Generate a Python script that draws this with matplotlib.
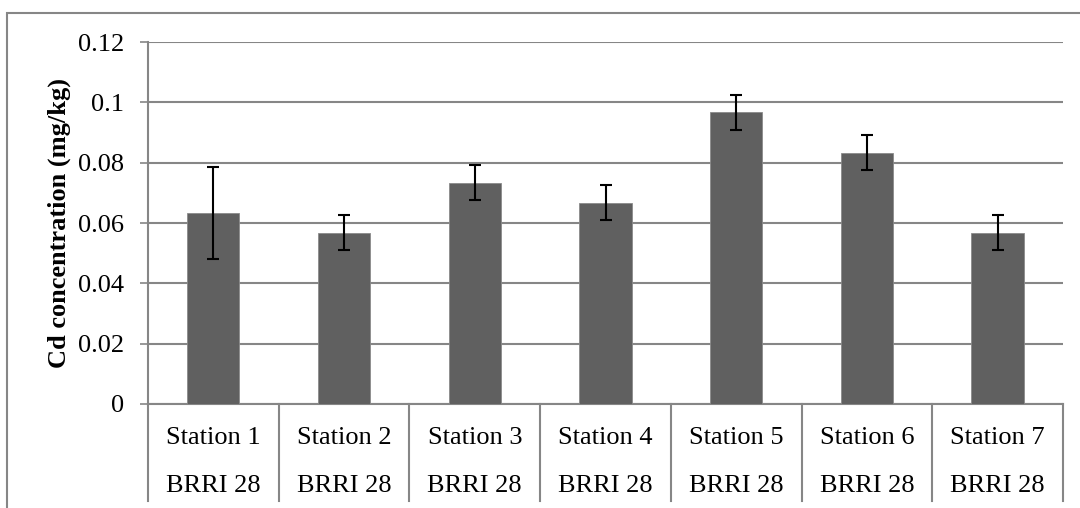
import matplotlib
matplotlib.use("Agg")
import matplotlib.pyplot as plt
from matplotlib.patches import Rectangle

stations = ["Station 1", "Station 2", "Station 3", "Station 4", "Station 5", "Station 6", "Station 7"]
variety = ["BRRI 28"] * 7
cd_values = [0.0633, 0.0567, 0.0733, 0.0667, 0.0967, 0.0833, 0.0567]
cd_errors = [0.0153, 0.0058, 0.0058, 0.0058, 0.0058, 0.0058, 0.0058]
y_ticks = [0, 0.02, 0.04, 0.06, 0.08, 0.1, 0.12]
y_labels = ["0", "0.02", "0.04", "0.06", "0.08", "0.1", "0.12"]

plt.rcParams['font.family'] = ['Liberation Serif', 'DejaVu Serif']
FS = 19
GRID = '#868686'

fig = plt.figure(figsize=(10.8, 5.08), dpi=100)
W, H = 1080, 508
# outer chart frame
fig.patches.append(Rectangle((7 / W, -0.1), 1.2, 1 - 13 / H + 0.1, transform=fig.transFigure,
                             fill=False, edgecolor=GRID, linewidth=1.5))

ax = fig.add_axes([148 / W, 1 - 404 / H, (1063 - 148) / W, (404 - 42) / H])
x = list(range(len(stations)))
ax.bar(x, cd_values, width=0.4, color='#606060', edgecolor='#8a8a8a', linewidth=0.6, zorder=3)
ax.errorbar(x, cd_values, yerr=cd_errors, fmt='none', ecolor='black', elinewidth=1.5,
            capsize=4.0, capthick=1.5, zorder=4)

ax.set_xlim(-0.5, len(stations) - 0.5)
ax.set_ylim(0, 0.12)
ax.set_yticks(y_ticks)
ax.set_yticklabels(y_labels, fontsize=FS)
ax.yaxis.grid(True, color=GRID, linewidth=1.5, zorder=0)
ax.set_axisbelow(True)
ax.tick_params(axis='y', length=6, width=1.2, color=GRID, pad=11)
ax.set_xticks([])
for s in ['top', 'right']:
    ax.spines[s].set_visible(False)
for s in ['left', 'bottom']:
    ax.spines[s].set_color(GRID)
    ax.spines[s].set_linewidth(1.5)

ax.set_ylabel("Cd concentration (mg/kg)", fontsize=FS, fontweight='bold', labelpad=5)

# multi-level category axis
trans = ax.get_xaxis_transform()
axh = 404 - 42
for b in range(len(stations) + 1):
    ax.plot([b - 0.5, b - 0.5], [0, -97 / axh], transform=trans, color=GRID,
            linewidth=1.5, clip_on=False)
for i, (s, v) in enumerate(zip(stations, variety)):
    ax.text(i, -34 / axh, s, transform=trans, ha='center', va='center', fontsize=FS)
    ax.text(i, -82 / axh, v, transform=trans, ha='center', va='center', fontsize=FS)

fig.savefig("out.png", dpi=100)
